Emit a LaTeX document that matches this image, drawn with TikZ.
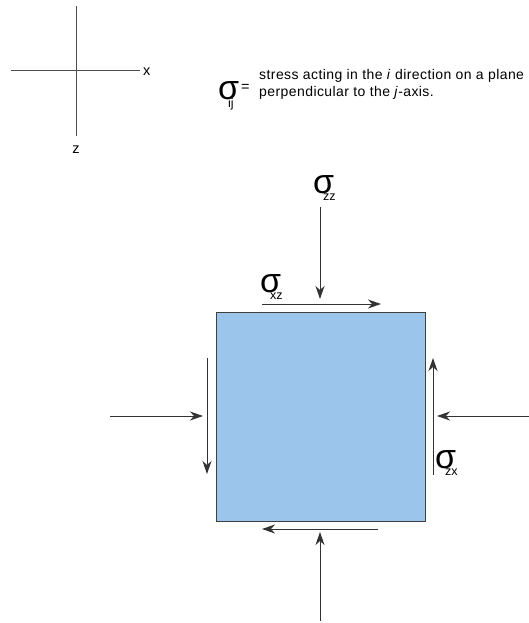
\documentclass[tikz,border=0pt]{standalone}
\usepackage{fontspec}
\setmainfont{Liberation Sans}
\usetikzlibrary{arrows.meta}

% stress symbol with its two-letter subscript
\newcommand{\stresssym}[1]{{\fontsize{34}{34}\selectfont σ}\kern-11pt\raisebox{-7pt}{\fontsize{12.5}{12.5}\selectfont #1}}

\begin{document}
\begin{tikzpicture}[
    x=1pt, y=-1pt,
    >={Stealth[length=13pt,width=9pt,inset=4pt]},
    axis/.style={draw=black!70, line width=1pt},
    force/.style={draw=black!80, line width=1pt, ->},
    lbl/.style={inner sep=0pt, font=\fontsize{14.5}{17}\selectfont},
    symb/.style={inner sep=0pt, anchor=base west},
    block/.style={
        draw=black!75,
        line width=1pt,
        fill={rgb,255:red,155;green,197;blue,235},
        minimum width=209pt,
        minimum height=209pt,
        inner sep=0pt
    }
]
    \useasboundingbox (0,0) rectangle (529,623);

    % axes
    \coordinate (ax0) at (76,6);
    \coordinate (ax1) at (76,136);
    \coordinate (ax2) at (11,71);
    \coordinate (ax3) at (140,71);
    \node[lbl, anchor=base west] (xlab) at (143,76) {x};
    \node[lbl, anchor=base] (zlab) at (76,153) {z};
    \draw[axis] (ax0) -- (ax1);
    \draw[axis] (ax2) -- (ax3);

    % legend
    \node[symb] (sij) at (218,100) {\stresssym{ij}};
    \node[lbl, anchor=base west] (eq) at (241,92) {=};
    \node[inner sep=0pt, anchor=base west, align=left,
          font=\fontsize{14}{17}\selectfont\addfontfeatures{LetterSpace=3}] (defn) at (259,96)
        {stress acting in the \textit{i} direction on a plane\\perpendicular to the \textit{j}-axis.};

    % element
    \node[block, anchor=north west] (blk) at (216,312) {};

    % normal stresses
    \coordinate (ntop) at (320,207);
    \coordinate (ntoph) at (320,299);
    \coordinate (nbot) at (320,621);
    \coordinate (nboth) at (320,532);
    \coordinate (nleft) at (110,416);
    \coordinate (nlefth) at (203,416);
    \coordinate (nright) at (529,416);
    \coordinate (nrighth) at (437,416);
    \draw[force] (ntop) -- (ntoph);
    \draw[force] (nbot) -- (nboth);
    \draw[force] (nleft) -- (nlefth);
    \draw[force] (nright) -- (nrighth);

    % shear stresses
    \coordinate (stop) at (262,304);
    \coordinate (stoph) at (381,304);
    \coordinate (sbot) at (378,529);
    \coordinate (sboth) at (262,529);
    \coordinate (sleft) at (207,358);
    \coordinate (slefth) at (207,474);
    \coordinate (sright) at (433,475);
    \coordinate (srighth) at (433,358);
    \draw[force] (stop) -- (stoph);
    \draw[force] (sbot) -- (sboth);
    \draw[force] (sleft) -- (slefth);
    \draw[force] (sright) -- (srighth);

    % labels
    \node[symb] (szz) at (313,193) {\stresssym{zz}};
    \node[symb] (sxz) at (260,292) {\stresssym{xz}};
    \node[symb] (szx) at (435,468) {\stresssym{zx}};
\end{tikzpicture}
\end{document}
